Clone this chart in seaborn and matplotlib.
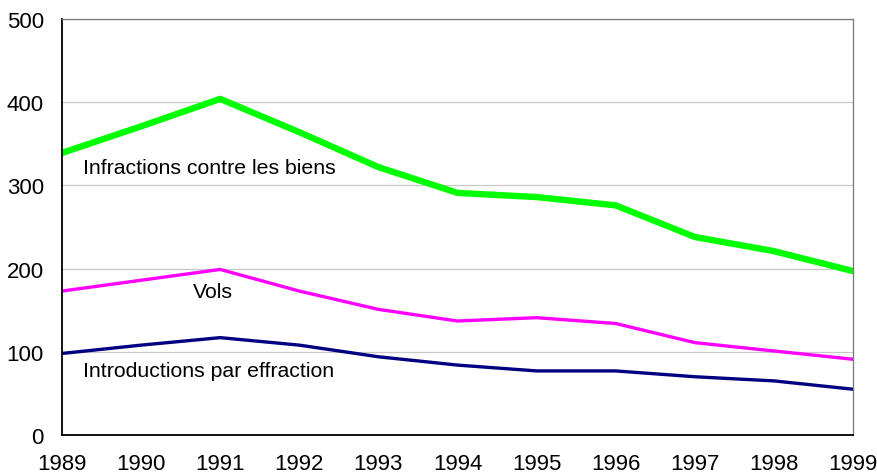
import pandas as pd
import matplotlib
matplotlib.use("Agg")
import matplotlib.pyplot as plt
import seaborn as sns

# ===== Data =====
years = [1989, 1990, 1991, 1992, 1993, 1994, 1995, 1996, 1997, 1998, 1999]
biens = [339, 371, 404, 364, 322, 291, 286, 276, 238, 221, 197]
vols = [173, 186, 199, 173, 151, 137, 141, 134, 111, 101, 91]
effraction = [98, 108, 117, 108, 94, 84, 77, 77, 70, 65, 55]

labels = ["Infractions contre les biens", "Vols", "Introductions par effraction"]
colors = ["#00ff00", "#ff00ff", "#000080"]
widths = [4.6, 2.4, 2.4]

df = pd.DataFrame({"Année": years, labels[0]: biens, labels[1]: vols, labels[2]: effraction})
long_df = df.melt(id_vars="Année", var_name="Série", value_name="Valeur")

sns.set_style("white")
plt.rcParams["font.family"] = ["Liberation Sans", "DejaVu Sans"]
plt.rcParams["text.color"] = "black"
plt.rcParams["xtick.color"] = "black"
plt.rcParams["ytick.color"] = "black"

fig, ax = plt.subplots(figsize=(8.77, 4.77), dpi=100)
fig.subplots_adjust(left=0.0707, right=0.9727, top=0.958, bottom=0.086)

for lab, col, lw in zip(labels, colors, widths):
    sns.lineplot(data=long_df[long_df["Série"] == lab], x="Année", y="Valeur",
                 color=col, linewidth=lw, ax=ax, legend=False)

ax.set_xlim(1989, 1999)
ax.set_ylim(0, 500)
ax.set_xticks(years)
ax.set_yticks([0, 100, 200, 300, 400, 500])
ax.yaxis.grid(True, color="#c8c8c8", linewidth=0.9)
ax.set_axisbelow(True)
ax.set_xlabel("")
ax.set_ylabel("")

ax.tick_params(axis="x", direction="in", length=6, width=1, pad=13, labelsize=16)
ax.tick_params(axis="y", length=0, pad=13, labelsize=16)
for side in ["left", "bottom"]:
    ax.spines[side].set_color("black")
    ax.spines[side].set_linewidth(1.3)
for side in ["top", "right"]:
    ax.spines[side].set_color("#777777")
    ax.spines[side].set_linewidth(0.9)

# series labels
ax.text(1989.27, 322, labels[0], fontsize=15.3, va="center", ha="left")
ax.text(1990.66, 173, labels[1], fontsize=15.3, va="center", ha="left")
ax.text(1989.27, 77, labels[2], fontsize=15.3, va="center", ha="left")

plt.savefig("out.png", dpi=100)
